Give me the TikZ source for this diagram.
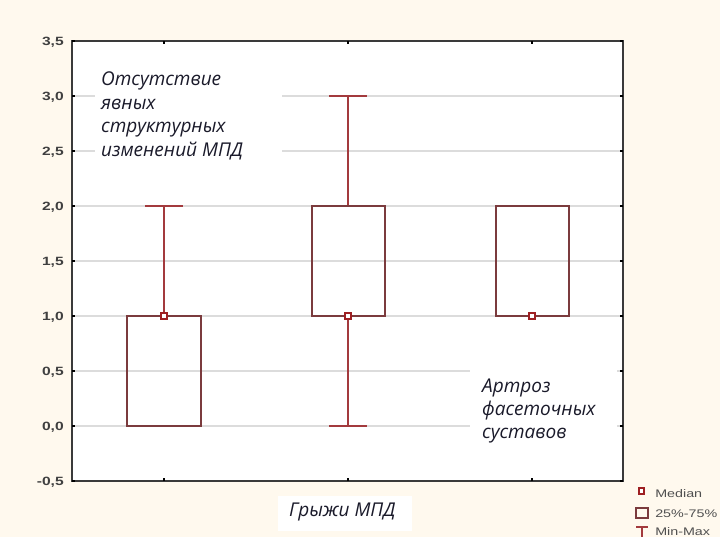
\documentclass[tikz,border=0pt]{standalone}
\usepackage{fontspec}
\setmainfont{Open Sans}
\newfontfamily\axisfont{Liberation Sans}
\definecolor{bgcream}{HTML}{FFF9EE}
\definecolor{boxline}{HTML}{7B3B3D}
\definecolor{whisk}{HTML}{A33A3D}
\definecolor{medc}{HTML}{9E1F22}
\definecolor{gridc}{HTML}{DCDCDC}
\definecolor{framec}{HTML}{3A3A3A}
\definecolor{axistext}{HTML}{404040}
\definecolor{legtext}{HTML}{505050}
\definecolor{annot}{HTML}{1A1A2A}
\tikzset{
  gridline/.style={gridc, line width=1.2pt},
  frameline/.style={framec, line width=1.6pt},
  tickmark/.style={black, line width=1.2pt},
  iqrbox/.style={boxline, line width=1.5pt},
  whisker/.style={whisk, line width=1.5pt},
  medmark/.style={medc, line width=1.6pt, fill=white},
  ylab/.style={anchor=base east, text=axistext, inner sep=0pt, xscale=1.3,
    font=\axisfont\bfseries\fontsize{12}{14}\selectfont},
  annotation/.style={anchor=base west, text=annot, inner sep=0pt,
    font=\itshape\fontsize{19}{24}\selectfont},
  legtxt/.style={anchor=base west, text=legtext, inner sep=0pt, xscale=1.3,
    font=\axisfont\fontsize{11}{12}\selectfont}
}
\begin{document}
\begin{tikzpicture}[x=1pt,y=-1pt]
\useasboundingbox (0,0) rectangle (720,537);
\fill[bgcream] (0,0) rectangle (720,537);
% plot area
\fill[white] (72,41) rectangle (623,481);
% grid lines
\foreach \yy in {96,151,206,261,316,371,426}
  \draw[gridline] (72,\yy) -- (623,\yy);
% white backgrounds of annotations
\fill[white] (95,58) rectangle (282,166);
\fill[white] (470,360) rectangle (617,446);
\fill[white] (278,496) rectangle (412,531);
% frame
\draw[frameline] (72,41) rectangle (623,481);
% ticks
\foreach \yy in {41,96,151,206,261,316,371,426,481} {
  \draw[tickmark] (72,\yy) -- (75,\yy);
  \draw[tickmark] (623,\yy) -- (620,\yy);
}
\foreach \xx in {164,348,532} {
  \draw[tickmark] (\xx,41) -- (\xx,44);
  \draw[tickmark] (\xx,481) -- (\xx,478);
}
% y labels
\node[ylab] (l35) at (64,45.5) {3,5};
\node[ylab] (l30) at (64,100.5) {3,0};
\node[ylab] (l25) at (64,155.5) {2,5};
\node[ylab] (l20) at (64,210.5) {2,0};
\node[ylab] (l15) at (64,265.5) {1,5};
\node[ylab] (l10) at (64,320.5) {1,0};
\node[ylab] (l05) at (64,375.5) {0,5};
\node[ylab] (l00) at (64,430.5) {0,0};
\node[ylab] (lm05) at (64,485.5) {-0,5};
% group 1
\draw[whisker] (164,316) -- (164,206);
\draw[whisker] (145,206) -- (183,206);
\draw[iqrbox] (127,316) rectangle (201,426);
\draw[medmark] (161,313) rectangle (167,319);
% group 2
\draw[whisker] (348,206) -- (348,96);
\draw[whisker] (329,96) -- (367,96);
\draw[whisker] (348,316) -- (348,426);
\draw[whisker] (329,426) -- (367,426);
\draw[iqrbox] (312,206) rectangle (385,316);
\draw[medmark] (345,313) rectangle (351,319);
% group 3
\draw[iqrbox] (496,206) rectangle (569,316);
\draw[medmark] (529,313) rectangle (535,319);
% annotations
\node[annotation] (a1) at (101,86) {Отсутствие};
\node[annotation] (a2) at (101,110) {явных};
\node[annotation] (a3) at (101,133) {структурных};
\node[annotation] (a4) at (101,157) {изменений МПД};
\node[annotation] (b1) at (482,392) {Артроз};
\node[annotation] (b2) at (482,415) {фасеточных};
\node[annotation] (b3) at (482,438) {суставов};
\node[annotation] (c1) at (289,516) {Грыжи МПД};
% legend
\draw[medmark, line width=1.3pt] (639,488) rectangle (644,494);
\node[legtxt] (lg1) at (655,497) {Median};
\draw[boxline, line width=1.3pt] (636,508) rectangle (648,518);
\node[legtxt] (lg2) at (655,517) {25\%-75\%};
\draw[whisk, line width=1.3pt] (636,527) -- (648,527);
\draw[whisk, line width=1.3pt] (642,527) -- (642,537);
\node[legtxt] (lg3) at (655,535) {Min-Max};
\end{tikzpicture}
\end{document}
